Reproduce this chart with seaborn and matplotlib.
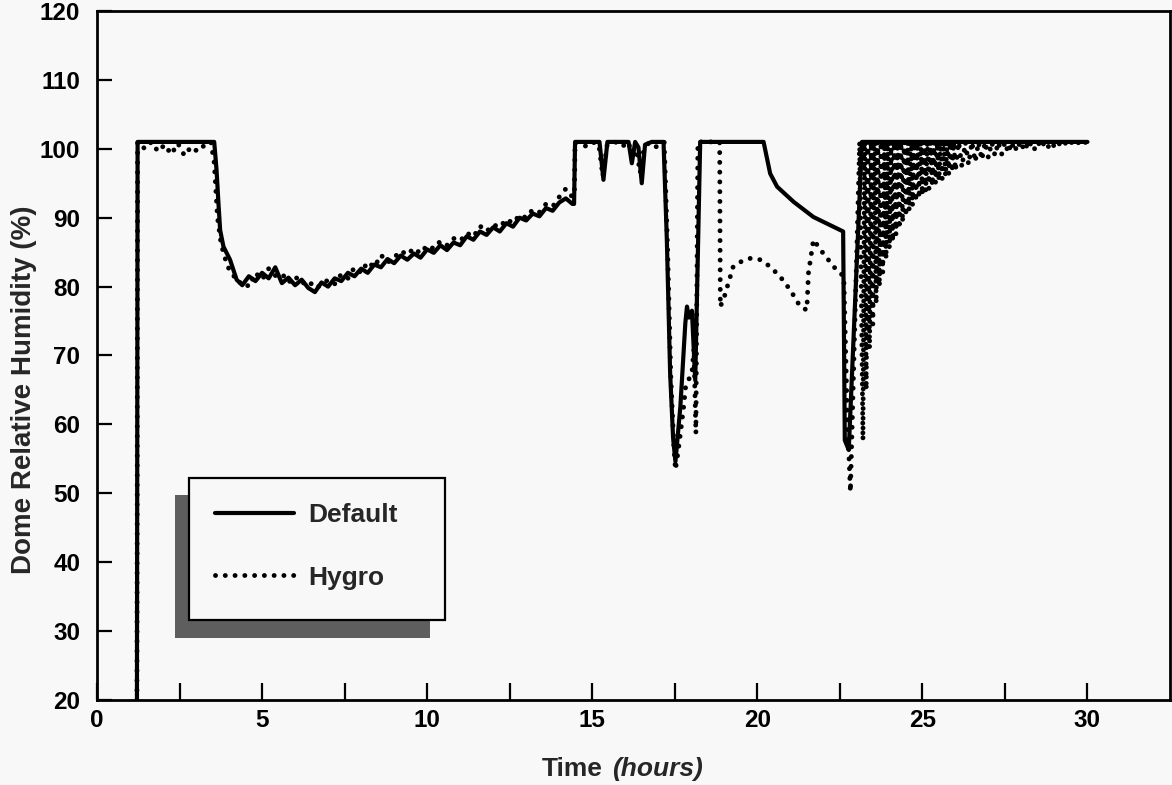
import numpy as np
import pandas as pd
import matplotlib
matplotlib.use("Agg")
import matplotlib.pyplot as plt
import seaborn as sns
from matplotlib.patches import Rectangle
from matplotlib.lines import Line2D

# ---------------- data ----------------
# Default run
def_t_start = [1.21, 1.23, 3.55, 3.62, 3.68, 3.73, 3.83, 4.03, 4.23]
def_v_start = [20, 101, 101, 97, 92, 88.2, 85.8, 83.9, 81.0]

noise_t = [4.4, 4.6, 4.8, 5.0, 5.2, 5.4, 5.6, 5.8, 6.0, 6.2, 6.4, 6.6, 6.8,
           7.0, 7.2, 7.4, 7.6, 7.8, 8.0, 8.2, 8.4, 8.6, 8.8, 9.0, 9.2, 9.4,
           9.6, 9.8, 10.0, 10.2, 10.4, 10.6, 10.8, 11.0, 11.2, 11.4, 11.6,
           11.8, 12.0, 12.2, 12.4, 12.6, 12.8, 13.0, 13.2, 13.4, 13.6, 13.8,
           14.0, 14.2, 14.4]
def_v_noise = [80.2, 81.5, 80.8, 82.0, 81.2, 82.8, 80.5, 81.3, 80.2, 81.0,
               79.8, 79.2, 80.6, 80.0, 81.2, 80.8, 82.0, 81.5, 82.6, 82.0,
               83.2, 82.8, 84.0, 83.4, 84.5, 83.9, 84.8, 84.2, 85.4, 84.9,
               86.0, 85.3, 86.4, 86.0, 87.3, 86.8, 88.0, 87.5, 88.6, 88.0,
               89.2, 88.7, 90.0, 89.6, 90.6, 90.2, 91.4, 91.0, 92.2, 92.8,
               92.0]

def_t_end = [14.45, 14.48, 15.22, 15.34, 15.46, 16.1, 16.2, 16.3, 16.4, 16.5,
             16.6, 16.8, 17.16, 17.26, 17.36, 17.45, 17.52, 17.67, 17.82,
             17.87, 17.93, 18.02, 18.12, 18.27, 20.19, 20.39, 20.6, 21.1,
             21.7, 22.6, 22.65, 22.77, 23.17, 30.0]
def_v_end = [92.0, 101, 101, 95.5, 101, 101, 97.9, 101, 100.2, 95.0,
             100.6, 101, 101, 86.8, 67.4, 58, 54.6, 62.6, 74.7,
             77.1, 75.5, 76.5, 66.4, 101, 101, 96.4, 94.5, 92.3,
             90.1, 88.0, 57.7, 56.3, 101, 101]

# Hygro run
hyg_t_start = [1.21, 1.23, 1.45, 1.65, 1.85, 2.05, 2.25, 2.45, 2.65, 2.85,
               3.05, 3.25, 3.45, 3.55, 3.65, 3.75, 3.85, 4.0, 4.15, 4.3]
hyg_v_start = [20, 101, 100.0, 101, 99.6, 100.6, 99.2, 100.8, 99.0, 100.3,
               99.6, 100.5, 101, 98, 90, 86.5, 84.5, 82.5, 81.5, 80.5]

hyg_v_noise = [80.8, 80.0, 82.0, 81.0, 82.6, 81.6, 81.9, 80.6, 81.5, 80.4,
               80.9, 79.8, 80.2, 81.0, 80.4, 81.8, 81.2, 82.8, 82.0, 83.6,
               82.8, 84.6, 83.5, 84.2, 85.2, 84.6, 85.6, 84.8, 86.0, 85.5,
               86.6, 86.0, 87.0, 86.6, 87.8, 87.2, 88.8, 88.0, 89.0, 88.6,
               89.8, 89.2, 90.4, 90.0, 91.2, 90.8, 92.0, 91.6, 93.0, 94.2,
               93.0]

hyg_t_mid = [14.46, 14.48, 14.8, 15.0, 15.2, 15.32, 15.45, 15.7, 15.9, 16.1,
             16.22, 16.32, 16.45, 16.55, 16.7, 16.9, 17.18, 17.28, 17.38,
             17.47, 17.52, 17.6, 17.68, 17.77, 17.83, 17.92, 18.02, 18.08,
             18.14, 18.2, 18.86, 18.88, 19.0, 19.18, 19.27, 19.5, 19.79,
             20.09, 20.39, 20.7, 21.0, 21.3, 21.5, 21.55, 21.7, 22.0, 22.4,
             22.62, 22.72, 22.82, 23.1]
hyg_v_mid = [93.5, 101, 100.4, 101, 100.6, 96.0, 100.5, 101, 100.3, 101,
             98.5, 100.6, 96.5, 99.5, 100.8, 100.2, 101, 86, 67,
             57, 53.4, 56, 59, 62.6, 65.5, 66.5, 67.4, 71,
             58.7, 101, 101, 77.1, 78.5, 81.4, 82.9, 83.6, 84.1,
             83.9, 82.9, 81.4, 79.5, 77.1, 76.6, 82.0, 86.8, 84.8, 82.4,
             81.5, 62, 50.2, 101]

# Hygro oscillation after 23 h: troughs and the saturation peak level
hyg_osc_trough_t = [23.2, 23.3, 23.4, 23.5, 23.6, 23.7, 23.8, 23.9, 24.0,
                    24.1, 24.2, 24.3, 24.4, 24.5, 24.6, 24.7, 24.8, 24.9,
                    25.0, 25.1, 25.2, 25.3, 25.4, 25.5, 25.6, 25.7, 25.8,
                    25.9, 26.0,
                    26.2, 26.4, 26.6, 26.8, 27.0, 27.2, 27.4, 27.6, 27.8,
                    28.0, 28.2, 28.4, 28.6, 28.8, 29.0, 29.2, 29.4, 29.6,
                    29.8]
hyg_osc_trough_v = [57.7, 65.0, 71.0, 74.5, 77.5, 80.0, 82.0, 84.0, 85.5,
                    86.5, 87.5, 88.4, 89.3, 90.2, 91.0, 91.7, 92.3, 92.8,
                    93.3, 93.8, 94.2, 94.6, 95.0, 95.4, 95.7, 96.0, 96.3,
                    96.6, 96.8,
                    97.3, 97.7, 98.1, 98.4, 98.7, 99.0, 99.2, 99.4, 99.6,
                    99.8, 99.9, 100.0, 100.1, 100.2, 100.3, 100.4, 100.4,
                    100.5, 100.5]
hyg_osc_peak_t = [23.25, 23.35, 23.45, 23.55, 23.65, 23.75, 23.85, 23.95,
                  24.05, 24.15, 24.25, 24.35, 24.45, 24.55, 24.65, 24.75,
                  24.85, 24.95, 25.05, 25.15, 25.25, 25.35, 25.45, 25.55,
                  25.65, 25.75, 25.85, 25.95, 26.1,
                  26.3, 26.5, 26.7, 26.9, 27.1, 27.3, 27.5, 27.7, 27.9,
                  28.1, 28.3, 28.5, 28.7, 28.9, 29.1, 29.3, 29.5, 29.7,
                  29.9]
hyg_osc_peak_v = 101
hyg_end_t, hyg_end_v = 30.0, 100.8

x_major = [0, 5, 10, 15, 20, 25, 30]
x_minor = [2.5, 7.5, 12.5, 17.5, 22.5, 27.5]
y_ticks = [20, 30, 40, 50, 60, 70, 80, 90, 100, 110, 120]
series_names = ["Default", "Hygro"]

# ---------------- assemble series ----------------
def_t = def_t_start + noise_t + def_t_end
def_v = def_v_start + def_v_noise + def_v_end

osc_t, osc_v = [], []
for tt, vv, pt in zip(hyg_osc_trough_t, hyg_osc_trough_v, hyg_osc_peak_t):
    osc_t += [tt, pt]
    osc_v += [vv, hyg_osc_peak_v]
hyg_t = hyg_t_start + noise_t + hyg_t_mid + osc_t + [hyg_end_t]
hyg_v = hyg_v_start + hyg_v_noise + hyg_v_mid + osc_v + [hyg_end_v]

df_def = pd.DataFrame({"t": def_t, "rh": def_v})
df_hyg = pd.DataFrame({"t": hyg_t, "rh": hyg_v})

# ---------------- style ----------------
sns.set_style("ticks")
plt.rcParams["font.family"] = ["Liberation Sans", "DejaVu Sans"]
plt.rcParams["font.weight"] = "bold"
BG = "#f8f8f8"
DOT = (0, (0.01, 2.0))
LW_DEF = 3.0
LW_HYG = 3.5

fig = plt.figure(figsize=(11.72, 7.85), dpi=100, facecolor=BG)
ax = fig.add_axes([0.08276, 0.10828, 0.91553, 0.87771])
ax.set_facecolor(BG)

sns.lineplot(data=df_hyg, x="t", y="rh", ax=ax, sort=False, estimator=None,
             color="black", lw=LW_HYG, linestyle=DOT, dash_capstyle="round")
sns.lineplot(data=df_def, x="t", y="rh", ax=ax, sort=False, estimator=None,
             color="black", lw=LW_DEF)

ax.set_xlim(0, 32.5)
ax.set_ylim(20, 120)
ax.set_xticks(x_major)
ax.set_xticks(x_minor, minor=True)
ax.set_yticks(y_ticks)
ax.set_xticklabels([str(v) for v in x_major], fontsize=17.5, fontweight="bold")
ax.set_yticklabels([str(v) for v in y_ticks], fontsize=17.5, fontweight="bold")
ax.tick_params(axis="both", which="both", direction="in", width=1.6,
               color="black", labelcolor="black")
ax.tick_params(axis="x", which="both", length=12.5, pad=6.5)
ax.tick_params(axis="y", which="both", length=11, pad=12)
for sp in ax.spines.values():
    sp.set_visible(True)
    sp.set_linewidth(2.0)
    sp.set_color("black")

ax.set_xlabel("")
ax.set_ylabel("Dome Relative Humidity (%)", fontsize=20, fontweight="bold")
ax.yaxis.set_label_coords(-0.056, 0.45)
fig.text(0.5145, 0.0115, "Time", ha="right", va="baseline",
         fontsize=19, fontweight="bold")
fig.text(0.5225, 0.0115, "(hours)", ha="left", va="baseline",
         fontsize=19, fontweight="bold", fontstyle="italic")

# legend with offset shadow box
ax.add_patch(Rectangle((0.0727, 0.0900), 0.2376, 0.2075, transform=ax.transAxes,
                       facecolor="#5e5e5e", edgecolor="none", zorder=5))
ax.add_patch(Rectangle((0.0857, 0.1161), 0.2386, 0.2061, transform=ax.transAxes,
                       facecolor=BG, edgecolor="black", lw=1.6, zorder=6))
handles = [Line2D([], [], color="black", lw=LW_DEF),
           Line2D([], [], color="black", lw=LW_HYG, linestyle=DOT,
                  dash_capstyle="round")]
leg = ax.legend(handles, series_names, loc="center left",
                bbox_to_anchor=(0.0975, 0.2228), frameon=False, borderpad=0,
                handlelength=3.0, handletextpad=0.55, labelspacing=1.45,
                prop={"size": 19, "weight": "bold"})
leg.set_zorder(7)

fig.savefig("out.png", dpi=100, facecolor=BG)
